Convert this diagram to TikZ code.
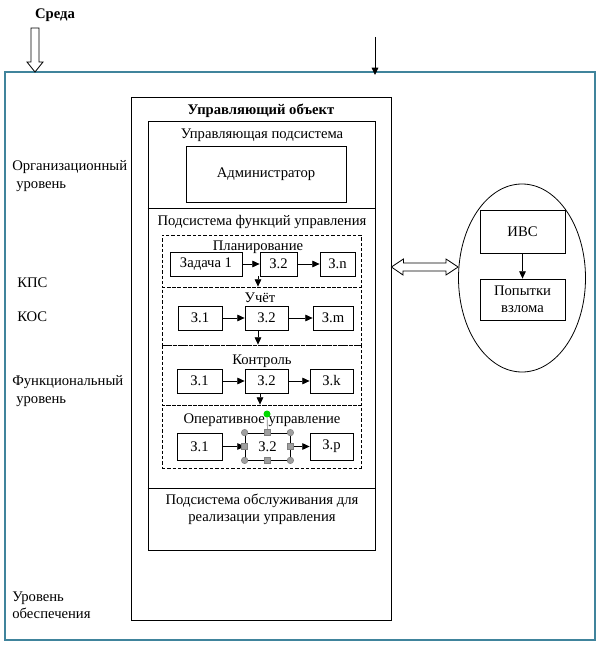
\documentclass[tikz,border=0pt]{standalone}
\usepackage{fontspec}
\setmainfont{Liberation Serif}
\usetikzlibrary{arrows.meta, shapes.geometric}

\definecolor{frameteal}{RGB}{64,132,156}
\newcommand{\pxu}{0.75pt}

\tikzset{
  blk/.style = {draw, line width=0.6pt, inner sep=0pt,
    minimum height=24*\pxu},
  phase/.style = {draw, dash pattern=on 2.5pt off 1.5pt, line width=0.6pt,
    inner sep=0pt, minimum width=199*\pxu},
  arr/.style = {-{Triangle[length=5.5pt, width=5pt]}, line width=0.6pt},
  lbl/.style = {align=left, anchor=west, inner sep=0pt},
  hcirc/.style = {circle, fill=gray!75, draw=gray, inner sep=0pt,
    minimum size=6.5*\pxu},
  hsq/.style = {rectangle, fill=gray!75, draw=gray, inner sep=0pt,
    minimum size=6*\pxu}
}

\begin{document}
\begin{tikzpicture}[x=0.75pt, y=-0.75pt, font=\fontsize{11}{13}\selectfont]
  \useasboundingbox (0, 0) rectangle (600, 645);

  % environment frame
  \draw[frameteal, line width=1.5pt] (5, 72) rectangle (595, 640);
  \node[font=\fontsize{11}{13}\selectfont\bfseries] (env) at (55, 15) {Среда};
  \draw[fill=white, line width=0.6pt]
    (31, 28) -- (39, 28) -- (39, 62) -- (43, 62) -- (35, 72)
    -- (27, 62) -- (31, 62) -- cycle;
  \coordinate (intop) at (375, 37);
  \coordinate (inbot) at (375, 75);
  \draw[arr] (intop) -- (inbot);

  % levels
  \node[lbl] (org) at (12, 176) {Организационный\\\hspace*{3pt}уровень};
  \node[lbl] (kps) at (17, 283) {КПС};
  \node[lbl] (kos) at (17, 317) {КОС};
  \node[lbl] (fun) at (12, 391) {Функциональный\\\hspace*{3pt}уровень};
  \node[lbl] (obs) at (12, 605) {Уровень\\обеспечения};

  % controlled object
  \node[draw, line width=0.6pt, minimum width=260*\pxu,
    minimum height=523*\pxu] (obj) at (261, 358.5) {};
  \node[font=\fontsize{11}{13}\selectfont\bfseries] (objt) at (261, 111)
    {Управляющий объект};
  \node[draw, line width=0.6pt, minimum width=227*\pxu,
    minimum height=429*\pxu] (sub) at (261.5, 335.5) {};
  \draw[line width=0.6pt] (sub.west |- 0, 208) -- (sub.east |- 0, 208);
  \draw[line width=0.6pt] (sub.west |- 0, 488) -- (sub.east |- 0, 488);

  \node (upr) at (262, 135) {Управляющая подсистема};
  \node[blk, minimum width=160*\pxu, minimum height=56*\pxu] (adm)
    at (266, 174) {Администратор};
  \node (funs) at (262, 222) {Подсистема функций управления};
  \node[align=center] (serv) at (262, 509)
    {Подсистема обслуживания для\\реализации управления};

  % phases
  \node[phase, minimum height=52*\pxu] (plan) at (261.5, 261) {};
  \node[phase, minimum height=58*\pxu] (uchet) at (261.5, 316) {};
  \node[phase, minimum height=60*\pxu] (kontr) at (261.5, 375) {};
  \node[phase, minimum height=63*\pxu] (oper) at (261.5, 436.5) {};

  \node (plant) at (258, 247) {Планирование};
  \node[blk, minimum width=72*\pxu] (zad1) at (206, 264) {Задача 1};
  \node[blk, minimum width=37*\pxu] (p2) at (278.5, 264) {З.2};
  \node[blk, minimum width=35*\pxu] (pn) at (337.5, 264) {З.n};
  \draw[arr] (zad1) -- (p2);
  \draw[arr] (p2) -- (pn);
  \draw[arr] (p2.south -| 258, 0) -- (uchet.north -| 258, 0);

  \node (ucht) at (260, 298) {Учёт};
  \node[blk, minimum width=44*\pxu] (u1) at (200, 318) {З.1};
  \node[blk, minimum width=43*\pxu] (u2) at (266.5, 318) {З.2};
  \node[blk, minimum width=40*\pxu] (um) at (333, 318) {З.m};
  \draw[arr] (u1) -- (u2);
  \draw[arr] (u2) -- (um);
  \draw[arr] (u2.south -| 258, 0) -- (kontr.north -| 258, 0);

  \node (kontt) at (262, 361) {Контроль};
  \node[blk, minimum width=45*\pxu] (k1) at (199.5, 381) {З.1};
  \node[blk, minimum width=43*\pxu] (k2) at (266.5, 381) {З.2};
  \node[blk, minimum width=43*\pxu] (kk) at (331.5, 381) {З.k};
  \draw[arr] (k1) -- (k2);
  \draw[arr] (k2) -- (kk);
  \draw[arr] (k2.south -| 260, 0) -- (oper.north -| 260, 0);

  \node (opert) at (262, 420) {Оперативное управление};
  \node[blk, minimum width=45*\pxu, minimum height=27*\pxu] (o1)
    at (199.5, 446.5) {З.1};
  \node[blk, minimum width=45*\pxu, minimum height=27*\pxu] (o2)
    at (267.5, 446.5) {З.2};
  \node[blk, minimum width=43*\pxu, minimum height=27*\pxu] (op)
    at (331.5, 446.5) {З.p};
  \draw[arr] (o1) -- (o2);
  \draw[arr] (o2) -- (op);

  % selection handles
  \node[circle, fill=green!85!black, inner sep=0pt, minimum size=7*\pxu]
    (rot) at (267, 414) {};
  \draw[gray, line width=0.5pt] (rot) -- (o2.north);
  \foreach \a in {north west, north east, south west, south east}
    \node[hcirc] at (o2.\a) {};
  \foreach \a in {north, south, east, west}
    \node[hsq] at (o2.\a) {};

  % information system
  \node[draw, ellipse, line width=0.6pt, minimum width=127*\pxu,
    minimum height=188*\pxu] (ell) at (522, 278) {};
  \node[blk, minimum width=85*\pxu, minimum height=43*\pxu] (ivs)
    at (522.5, 231.5) {ИВС};
  \node[blk, minimum width=85*\pxu, minimum height=41*\pxu, align=center]
    (hack) at (522.5, 299.5) {Попытки\\взлома};
  \draw[arr] (ivs) -- (hack);

  \draw[fill=white, line width=0.6pt]
    (obj.east |- 0, 267) -- ++(12, -8) -- ++(0, 4) -- (446, 263)
    -- (446, 259) -- (ell.west |- 0, 267) -- (446, 275) -- (446, 271)
    -- (403, 271) -- (403, 275) -- cycle;
\end{tikzpicture}
\end{document}
